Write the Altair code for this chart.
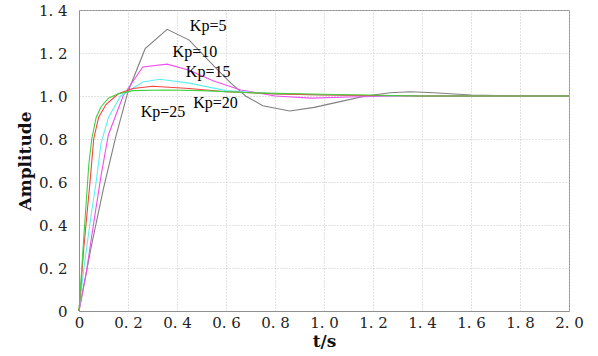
import altair as alt
import pandas as pd

# Step responses (t in s, amplitude)
t5 = [0, 0.05, 0.10, 0.15, 0.20, 0.27, 0.36, 0.45, 0.55, 0.62, 0.68, 0.75, 0.86, 0.96, 1.07, 1.17, 1.27, 1.35, 1.45, 1.6, 1.8, 2.0]
a5 = [0, 0.30, 0.57, 0.81, 1.02, 1.22, 1.31, 1.26, 1.14, 1.06, 1.0, 0.955, 0.93, 0.947, 0.975, 1.0, 1.015, 1.02, 1.015, 1.005, 1.0, 1.0]

t10 = [0, 0.03, 0.06, 0.09, 0.12, 0.18, 0.26, 0.36, 0.45, 0.55, 0.66, 0.8, 0.95, 1.1, 1.3, 1.6, 2.0]
a10 = [0, 0.18, 0.41, 0.63, 0.82, 1.0, 1.135, 1.148, 1.12, 1.07, 1.028, 1.0, 0.99, 0.995, 1.0, 1.0, 1.0]

t15 = [0, 0.02, 0.05, 0.07, 0.09, 0.12, 0.17, 0.26, 0.33, 0.45, 0.6, 0.8, 1.0, 1.3, 1.6, 2.0]
a15 = [0, 0.2, 0.45, 0.6, 0.78, 0.9, 1.0, 1.065, 1.078, 1.06, 1.025, 1.01, 1.005, 1.0, 1.0, 1.0]

t20 = [0, 0.02, 0.045, 0.06, 0.08, 0.11, 0.16, 0.22, 0.3, 0.45, 0.6, 0.8, 1.0, 1.4, 2.0]
a20 = [0, 0.3, 0.6, 0.8, 0.9, 0.96, 1.01, 1.035, 1.045, 1.035, 1.02, 1.01, 1.005, 1.0, 1.0]

t25 = [0, 0.02, 0.04, 0.052, 0.07, 0.09, 0.12, 0.16, 0.22, 0.35, 0.5, 0.7, 1.0, 1.4, 2.0]
a25 = [0, 0.35, 0.68, 0.8, 0.9, 0.95, 0.99, 1.01, 1.025, 1.028, 1.025, 1.015, 1.008, 1.0, 1.0]

series_names = ["Kp=5", "Kp=10", "Kp=15", "Kp=20", "Kp=25"]
series_colors = ["#808080", "#f050f0", "#60eeee", "#ff4040", "#40d040"]

label_text = ["Kp=5", "Kp=10", "Kp=15", "Kp=20", "Kp=25"]
label_t = [0.527, 0.473, 0.527, 0.557, 0.343]
label_a = [1.325, 1.206, 1.113, 0.966, 0.927]

x_ticks = [0, 0.2, 0.4, 0.6, 0.8, 1.0, 1.2, 1.4, 1.6, 1.8, 2.0]
y_ticks = [0, 0.2, 0.4, 0.6, 0.8, 1.0, 1.2, 1.4]

rows = []
for name, ts, amps in zip(series_names, [t5, t10, t15, t20, t25], [a5, a10, a15, a20, a25]):
    for i, (t, a) in enumerate(zip(ts, amps)):
        rows.append({"series": name, "t": t, "amp": a, "i": i})
df = pd.DataFrame(rows)
labels = pd.DataFrame({"text": label_text, "t": label_t, "amp": label_a})

lab_expr = "datum.value == 0 ? '0' : replace(format(datum.value, '.1f'), '.', '. ')"

common_axis = dict(
    labelFont="DejaVu Serif", labelFontSize=15, labelColor="#222",
    titleFont="DejaVu Serif", titleFontSize=17, titleFontWeight="bold", titleColor="#111",
    grid=True, gridColor="#c4c4c4", gridDash=[1, 2], gridWidth=1,
    domainColor="#909090", ticks=False, labelFlush=False, labelOverlap=False,
)

x_enc = alt.X("t:Q", scale=alt.Scale(domain=[0, 2.0], nice=False),
              axis=alt.Axis(values=x_ticks, labelExpr=lab_expr, title="t/s",
                            labelPadding=4, titlePadding=3, **common_axis))
y_enc = alt.Y("amp:Q", scale=alt.Scale(domain=[0, 1.4], nice=False),
              axis=alt.Axis(values=y_ticks, labelExpr=lab_expr, title="Amplitude",
                            labelPadding=12, titlePadding=4, **common_axis))

lines = alt.Chart(df).mark_line(strokeWidth=1.1).encode(
    x=x_enc,
    y=y_enc,
    order="i:Q",
    color=alt.Color("series:N", scale=alt.Scale(domain=series_names, range=series_colors), legend=None),
)

texts = alt.Chart(labels).mark_text(font="Liberation Serif", fontSize=16, color="black",
                                    align="center", baseline="middle").encode(
    x="t:Q", y="amp:Q", text="text:N"
)

chart = alt.layer(lines, texts).properties(
    width=490, height=301,
    autosize=alt.AutoSizeParams(type="none"),
    padding={"left": 79, "top": 10, "right": 29, "bottom": 45},
    background="white",
).configure_view(stroke="#909090", strokeWidth=1)

chart.save("out.html", embed_options={"renderer": "svg", "actions": False})
